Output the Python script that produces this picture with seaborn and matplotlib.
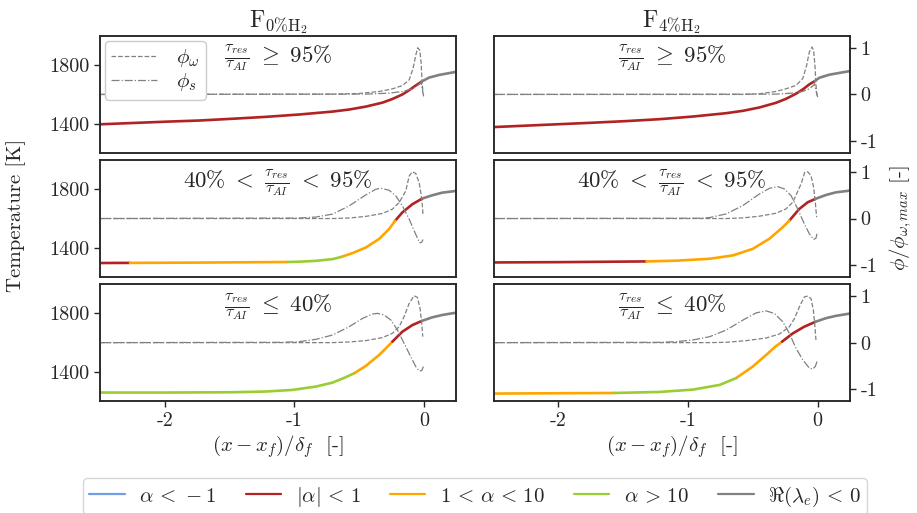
import numpy as np
import pandas as pd
import matplotlib
matplotlib.use("Agg")
import matplotlib.pyplot as plt
import seaborn as sns
from matplotlib.lines import Line2D

# regime labels / colours
regimes = ["a<-1", "|a|<1", "1<a<10", "a>10", "Re<0"]
regime_labels = [r"$\alpha\,<\,-1$", r"$|\alpha|\,<\,1$", r"$1\,<\,\alpha\,<\,10$",
                 r"$\alpha\,>\,10$", r"$\Re(\lambda_e)\,<\,0$"]
regime_colors = ["#6f9fe6", "#b22222", "#ffa500", "#9acd32", "#808080"]

titles = [r"$\mathrm{F}_{0\%\mathrm{H}_2}$", r"$\mathrm{F}_{4\%\mathrm{H}_2}$"]
row_text = [r"$\frac{\tau_{res}}{\tau_{AI}}\ \geq\ 95\%$",
            r"$40\%\ <\ \frac{\tau_{res}}{\tau_{AI}}\ <\ 95\%$",
            r"$\frac{\tau_{res}}{\tau_{AI}}\ \leq\ 40\%$"]

# ---- top left: F0%, >=95% ----
x_T_a = [-2.5, -2.244, -1.987, -1.731, -1.474, -1.218, -0.962, -0.705, -0.577, -0.449,
         -0.321, -0.244, -0.167, -0.115, -0.064, -0.018, 0.038, 0.115, 0.25]
T_a = [1396, 1405, 1414, 1422, 1434, 1447, 1463, 1483, 1497, 1517,
       1544, 1569, 1600, 1629, 1661, 1688, 1715, 1733, 1755]
cut_a = [0, 15, 18]
cat_a = ["|a|<1", "Re<0"]
x_w_a = [-2.5, -0.705, -0.5, -0.346, -0.244, -0.167, -0.115, -0.085, -0.064, -0.049,
         -0.033, -0.023, -0.018, -0.013, -0.008]
w_a = [0, 0.007, 0.021, 0.063, 0.119, 0.19, 0.309, 0.555, 0.836, 0.997,
       0.941, 0.695, 0.414, 0.204, 0.028]
x_s_a = [-2.5, -0.449, -0.269, -0.167, -0.09, -0.044, -0.023, -0.013, -0.003]
s_a = [0, 0.007, 0.028, 0.063, 0.119, 0.204, 0.253, 0.098, -0.042]

# ---- top right: F4%, >=95% ----
x_T_b = [-2.5, -2.244, -1.987, -1.731, -1.474, -1.218, -0.962, -0.705, -0.577, -0.449,
         -0.321, -0.244, -0.167, -0.115, -0.064, -0.023, 0.013, 0.09, 0.25]
T_b = [1377, 1387, 1397, 1407, 1418, 1431, 1449, 1472, 1488, 1511,
       1543, 1570, 1605, 1634, 1669, 1691, 1714, 1735, 1760]
cut_b = [0, 15, 18]
cat_b = ["|a|<1", "Re<0"]
x_w_b = [-2.5, -0.577, -0.449, -0.321, -0.244, -0.167, -0.115, -0.085, -0.064, -0.044,
         -0.031, -0.021, -0.015, -0.01, -0.005]
w_b = [0, 0, 0.014, 0.064, 0.121, 0.193, 0.336, 0.621, 0.907, 1.014,
       0.943, 0.621, 0.336, 0.086, -0.021]
x_s_b = [-2.5, -0.321, -0.192, -0.115, -0.064, -0.033, -0.023, -0.013, 0.0]
s_b = [0, 0.007, 0.029, 0.064, 0.121, 0.193, 0.229, 0.086, -0.057]

# ---- middle left: F0%, 40-95% ----
x_T_c = [-2.5, -2.269, -1.731, -1.051, -0.962, -0.833, -0.705, -0.641, -0.551, -0.449,
         -0.346, -0.269, -0.223, -0.167, -0.09, -0.013, 0.064, 0.141, 0.25]
T_c = [1296, 1297, 1299, 1303, 1305, 1311, 1323, 1337, 1364, 1402,
       1461, 1529, 1585, 1642, 1698, 1737, 1759, 1777, 1789]
cut_c = [0, 1, 3, 7, 12, 15, 18]
cat_c = ["|a|<1", "1<a<10", "a>10", "1<a<10", "|a|<1", "Re<0"]
x_w_c = [-2.5, -0.705, -0.577, -0.449, -0.321, -0.244, -0.192, -0.141, -0.115, -0.09,
         -0.064, -0.038, -0.023, -0.013, -0.008]
w_c = [0, 0, 0.011, 0.046, 0.109, 0.201, 0.342, 0.59, 0.907, 0.999,
       0.964, 0.766, 0.519, 0.272, 0.06]
x_s_c = [-2.5, -0.962, -0.833, -0.705, -0.577, -0.449, -0.372, -0.333, -0.269, -0.218,
         -0.167, -0.115, -0.077, -0.051, -0.033, -0.018, -0.008]
s_c = [0, 0.011, 0.032, 0.095, 0.272, 0.505, 0.625, 0.646, 0.604, 0.484,
       0.272, -0.011, -0.258, -0.42, -0.519, -0.505, -0.448]

# ---- middle right: F4%, 40-95% ----
x_T_d = [-2.5, -1.987, -1.321, -1.09, -0.833, -0.654, -0.5, -0.372, -0.269, -0.218,
         -0.141, -0.077, -0.018, 0.064, 0.141, 0.25]
T_d = [1300, 1302, 1307, 1312, 1325, 1348, 1393, 1462, 1541, 1586,
       1666, 1711, 1734, 1761, 1779, 1791]
cut_d = [0, 2, 9, 12, 15]
cat_d = ["|a|<1", "1<a<10", "|a|<1", "Re<0"]
x_w_d = [-2.5, -0.705, -0.577, -0.449, -0.321, -0.244, -0.192, -0.128, -0.1, -0.077,
         -0.051, -0.031, -0.018, -0.008]
w_d = [0, 0, 0.014, 0.05, 0.113, 0.206, 0.348, 0.738, 0.986, 1.0,
       0.915, 0.667, 0.348, 0.028]
x_s_d = [-2.5, -0.91, -0.833, -0.705, -0.577, -0.449, -0.372, -0.308, -0.256, -0.205,
         -0.154, -0.103, -0.064, -0.031, -0.013, -0.005]
s_d = [0, 0.007, 0.021, 0.099, 0.277, 0.525, 0.645, 0.681, 0.631, 0.489,
       0.206, -0.113, -0.326, -0.447, -0.418, -0.326]

# ---- bottom left: F0%, <=40% ----
x_T_e = [-2.5, -1.987, -1.474, -1.218, -1.013, -0.833, -0.705, -0.603, -0.538, -0.449,
         -0.346, -0.295, -0.244, -0.167, -0.09, -0.018, 0.064, 0.141, 0.25]
T_e = [1259, 1259, 1261, 1266, 1277, 1300, 1327, 1364, 1391, 1441,
       1516, 1561, 1607, 1675, 1720, 1748, 1773, 1789, 1805]
cut_e = [0, 8, 12, 15, 18]
cat_e = ["a>10", "1<a<10", "|a|<1", "Re<0"]
x_w_e = [-2.5, -0.705, -0.577, -0.449, -0.321, -0.244, -0.192, -0.154, -0.115, -0.077,
         -0.051, -0.031, -0.018, -0.01]
w_e = [0, 0, 0.014, 0.043, 0.107, 0.199, 0.341, 0.554, 0.838, 1.001,
       0.966, 0.732, 0.412, 0.128]
x_s_e = [-2.5, -1.09, -0.962, -0.833, -0.705, -0.577, -0.474, -0.397, -0.359, -0.308,
         -0.256, -0.205, -0.154, -0.103, -0.064, -0.038, -0.018, -0.005]
s_e = [0, 0.007, 0.021, 0.071, 0.163, 0.341, 0.518, 0.611, 0.625, 0.589,
       0.483, 0.27, -0.014, -0.298, -0.511, -0.604, -0.597, -0.511]

# ---- bottom right: F4%, <=40% ----
x_T_f = [-2.5, -1.564, -1.218, -0.962, -0.756, -0.628, -0.5, -0.397, -0.326, -0.274,
         -0.192, -0.103, -0.018, 0.064, 0.141, 0.25]
T_f = [1252, 1256, 1263, 1279, 1311, 1358, 1437, 1516, 1573, 1607,
       1663, 1709, 1742, 1767, 1783, 1799]
cut_f = [0, 1, 5, 9, 12, 15]
cat_f = ["1<a<10", "a>10", "1<a<10", "|a|<1", "Re<0"]
x_w_f = [-2.5, -0.833, -0.705, -0.551, -0.397, -0.295, -0.218, -0.179, -0.141, -0.103,
         -0.077, -0.051, -0.033, -0.021, -0.013]
w_f = [0, 0, 0.007, 0.042, 0.099, 0.184, 0.339, 0.516, 0.763, 0.975,
       0.996, 0.94, 0.693, 0.339, 0.057]
x_s_f = [-2.5, -1.218, -1.09, -0.962, -0.833, -0.705, -0.577, -0.474, -0.397, -0.333,
         -0.269, -0.218, -0.167, -0.115, -0.064, -0.038, -0.018, -0.005]
s_f = [0, 0.007, 0.021, 0.057, 0.127, 0.269, 0.481, 0.636, 0.678, 0.622,
       0.445, 0.198, -0.12, -0.367, -0.544, -0.565, -0.509, -0.403]


def temp_frame(xs, ts, cuts, cats):
    rows = []
    for k, cat in enumerate(cats):
        for i in range(cuts[k], cuts[k + 1] + 1):
            rows.append((xs[i], ts[i], cat, k))
    return pd.DataFrame(rows, columns=["x", "T", "regime", "seg"])


panels = [
    (x_T_a, T_a, cut_a, cat_a, x_w_a, w_a, x_s_a, s_a),
    (x_T_b, T_b, cut_b, cat_b, x_w_b, w_b, x_s_b, s_b),
    (x_T_c, T_c, cut_c, cat_c, x_w_c, w_c, x_s_c, s_c),
    (x_T_d, T_d, cut_d, cat_d, x_w_d, w_d, x_s_d, s_d),
    (x_T_e, T_e, cut_e, cat_e, x_w_e, w_e, x_s_e, s_e),
    (x_T_f, T_f, cut_f, cat_f, x_w_f, w_f, x_s_f, s_f),
]

sns.set_style("ticks")
plt.rcParams["font.family"] = "serif"
plt.rcParams["font.serif"] = ["cmr10", "DejaVu Serif"]
plt.rcParams["mathtext.fontset"] = "cm"
plt.rcParams["axes.unicode_minus"] = False
plt.rcParams["axes.linewidth"] = 1.1
plt.rcParams["xtick.direction"] = "out"
plt.rcParams["ytick.direction"] = "out"

palette = dict(zip(regimes, regime_colors))
fs = 15

fig = plt.figure(figsize=(9.17, 5.13), dpi=100)
gs = fig.add_gridspec(3, 2, left=0.109, right=0.927, top=0.930, bottom=0.218,
                      hspace=0.06, wspace=0.104)

for n, (xT, T, cuts, cats, xw, w, xs, s) in enumerate(panels):
    row, col = n // 2, n % 2
    ax = fig.add_subplot(gs[row, col])
    ax2 = ax.twinx()

    df = temp_frame(xT, T, cuts, cats)
    sns.lineplot(data=df, x="x", y="T", hue="regime", units="seg", estimator=None,
                 sort=False, palette=palette, lw=1.9, legend=False, ax=ax)
    sns.lineplot(x=xw, y=w, sort=False, estimator=None, color="gray", lw=0.9,
                 ls="--", ax=ax2, label=r"$\phi_\omega$")
    sns.lineplot(x=xs, y=s, sort=False, estimator=None, color="gray", lw=0.9,
                 ls="-.", ax=ax2, label=r"$\phi_s$")

    ax.set_xlim(-2.5, 0.25)
    ax.set_ylim(1200, 2000)
    ax2.set_ylim(-1.25, 1.25)
    ax.set_ylabel("")
    ax2.set_ylabel("")
    ax.set_xlabel("")

    ax.set_yticks([1400, 1800], ["1400", "1800"])
    ax2.set_yticks([-1, 0, 1], ["-1", "0", "1"])
    ax.set_xticks([-2, -1, 0], ["-2", "-1", "0"])
    ax.tick_params(labelsize=14.5, length=4, width=1)
    ax2.tick_params(labelsize=14.5, length=4, width=1)

    if col == 0:
        ax2.tick_params(right=False, labelright=False)
    else:
        ax.tick_params(left=False, labelleft=False)

    if row < 2:
        ax.tick_params(bottom=False, labelbottom=False)
    else:
        ax.set_xlabel(r"$(x-x_f)/\delta_f$  [-]", fontsize=fs, labelpad=3)

    if row == 0:
        ax.set_title(titles[col], fontsize=17, pad=4)

    if n == 0:
        ax2.legend(loc="upper left", fontsize=fs, handlelength=2.2, handletextpad=0.9,
                   borderpad=0.3, labelspacing=0.1, edgecolor="0.8", framealpha=1.0,
                   borderaxespad=0.25)
    elif ax2.get_legend():
        ax2.get_legend().remove()

    ax.text(0.5, 0.81, row_text[row], transform=ax.transAxes, ha="center",
            va="center", fontsize=16.5)

fig.text(0.018, 0.58, "Temperature [K]", rotation=90, ha="center", va="center",
         fontsize=fs)
fig.text(0.982, 0.575, r"$\phi/\phi_{\omega,max}$ [-]", rotation=90, ha="center",
         va="center", fontsize=fs)

handles = [Line2D([], [], color=c, lw=1.6) for c in regime_colors]
fig.legend(handles, regime_labels, loc="lower center", bbox_to_anchor=(0.518, -0.004),
           ncol=5, fontsize=fs, frameon=True, edgecolor="0.8", handlelength=1.7,
           handletextpad=0.7, columnspacing=1.4, borderpad=0.3, borderaxespad=0.0)

fig.savefig("out.png", dpi=100)
